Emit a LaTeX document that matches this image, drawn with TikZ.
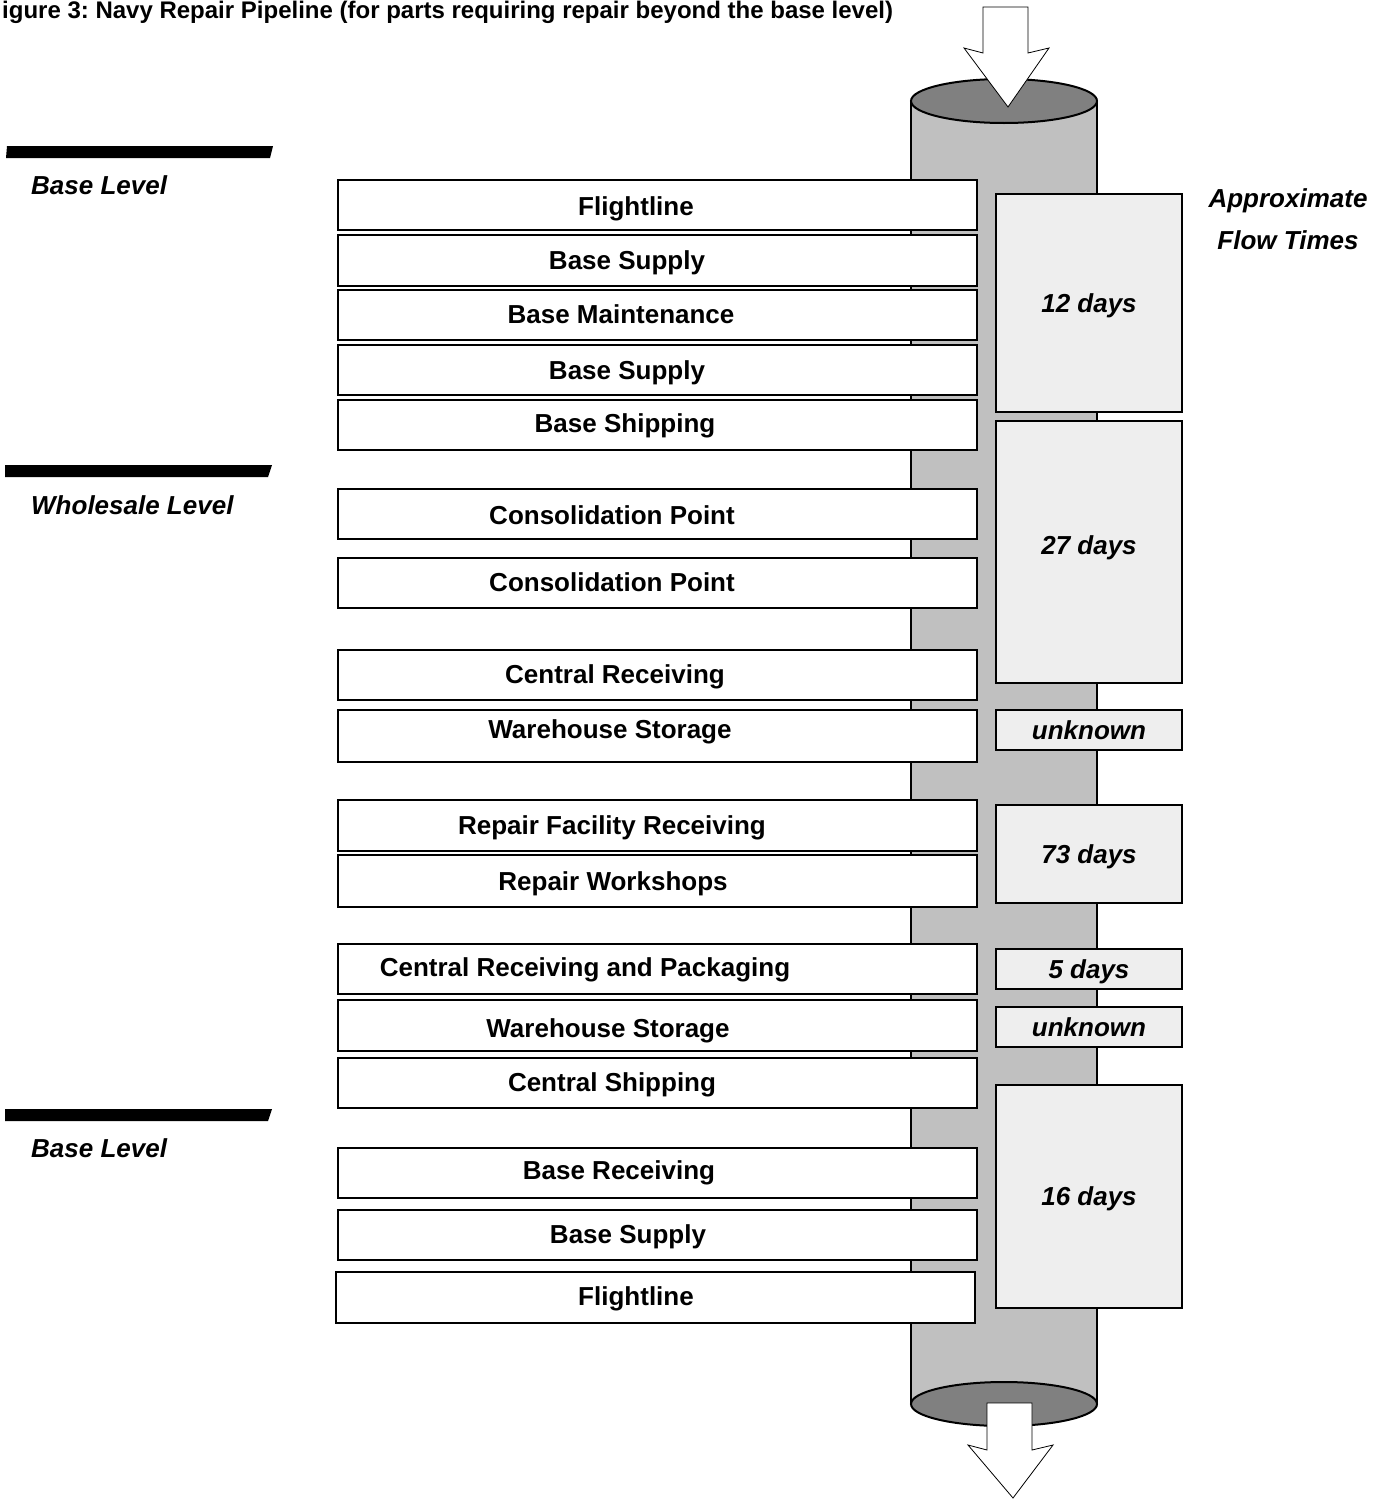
\documentclass[tikz,border=0pt]{standalone}
\usepackage{fontspec}
\setmainfont{Liberation Sans}
\usetikzlibrary{positioning}
\frenchspacing

\definecolor{pipegray}{RGB}{192,192,192}
\definecolor{pipedark}{RGB}{128,128,128}
\definecolor{timegray}{RGB}{238,238,238}

\begin{document}
\begin{tikzpicture}[x=1pt,y=-1pt]
    \begin{scope}[inner sep=0pt, text centered,
    		stagebox/.style={rectangle,draw,line width=2pt,fill=white,minimum width=639pt,minimum height=50pt},
    		stagetext/.style={font=\fontsize{26}{31}\selectfont\bfseries,text height=18.6pt,text depth=0pt},
    		timebox/.style={rectangle,draw,line width=2pt,fill=timegray,minimum width=186pt,
    			font=\fontsize{26}{31}\selectfont\bfseries\itshape,text height=18.6pt,text depth=0pt},
    		leveltext/.style={anchor=west,font=\fontsize{26}{31}\selectfont\bfseries\itshape,text height=18.6pt,text depth=0pt},
    		levelbar/.style={fill=black},
    		bigarrow/.style={draw,fill=white,line width=0.8pt}]
    
    \useasboundingbox (0,0) rectangle (1382,1499);
    
    % title
    \node[anchor=base west,font=\fontsize{24}{28}\selectfont\bfseries](title) at (2,19)
    {igure 3: Navy Repair Pipeline (for parts requiring repair beyond the base level)};
    
    % pipe
    \fill[pipegray] (911,101) rectangle (1097,1404);
    \draw[line width=2pt] (911,101) -- (911,1404) (1097,101) -- (1097,1404);
    \draw[line width=2pt,fill=pipedark] (1004,101) ellipse [x radius=93, y radius=22];
    \draw[line width=2pt,fill=pipedark] (1004,1404) ellipse [x radius=93, y radius=22];
    
    \draw[bigarrow] (983,7) -- (1028,7) -- (1028,53) -- (1049,48) -- (1008,107)
    	-- (964,48) -- (983,53) -- cycle;
    \draw[bigarrow] (987,1403) -- (1032,1403) -- (1032,1450) -- (1053,1445) -- (1013,1498)
    	-- (968,1445) -- (987,1450) -- cycle;
    
    % levels
    \fill[levelbar] (6,158) -- (270,158) -- (273,146) -- (7,146) -- cycle;
    \fill[levelbar] (5,477) -- (268,477) -- (272,465) -- (5,465) -- cycle;
    \fill[levelbar] (5,1121) -- (268,1121) -- (272,1109) -- (5,1109) -- cycle;
    \node[leveltext](base1) at (31,185) {Base Level};
    \node[leveltext](whole) at (31,505) {Wholesale Level};
    \node[leveltext](base2) at (31,1148) {Base Level};
    
    % stages
    \node[stagebox,label={[stagetext,xshift=-21.5pt,yshift=-1pt]center:Flightline}](flight1) at (657.5,205) {};
    \node[stagebox,minimum height=51pt,label={[stagetext,xshift=-30.5pt]center:Base Supply}](supply1) at (657.5,260.5) {};
    \node[stagebox,label={[stagetext,xshift=-36.5pt,yshift=1pt]center:Base Maintenance}](maint) at (657.5,315) {};
    \node[stagebox,label={[stagetext,xshift=-30.5pt]center:Base Supply}](supply2) at (657.5,370) {};
    \node[stagebox,label={[stagetext,xshift=-32.5pt,yshift=2pt]center:Base Shipping}](ship) at (657.5,425) {};
    \node[stagebox,label={[stagetext,xshift=-45.5pt,yshift=-1pt]center:Consolidation Point}](consol1) at (657.5,514) {};
    \node[stagebox,label={[stagetext,xshift=-45.5pt,yshift=1pt]center:Consolidation Point}](consol2) at (657.5,583) {};
    \node[stagebox,label={[stagetext,xshift=-42.5pt,yshift=1pt]center:Central Receiving}](centrec) at (657.5,675) {};
    \node[stagebox,minimum height=52pt,label={[stagetext,xshift=-47.5pt,yshift=7pt]center:Warehouse Storage}](ware1) at (657.5,736) {};
    \node[stagebox,minimum height=51pt,label={[stagetext,xshift=-45.5pt]center:Repair Facility Receiving}](repfac) at (657.5,825.5) {};
    \node[stagebox,minimum height=52pt,label={[stagetext,xshift=-44.5pt]center:Repair Workshops}](repwork) at (657.5,881) {};
    \node[stagebox,label={[stagetext,xshift=-72.5pt,yshift=2pt]center:Central Receiving and Packaging}](centpack) at (657.5,969) {};
    \node[stagebox,minimum height=51pt,label={[stagetext,xshift=-49.5pt,yshift=-2.5pt]center:Warehouse Storage}](ware2) at (657.5,1025.5) {};
    \node[stagebox,label={[stagetext,xshift=-45.5pt,yshift=1pt]center:Central Shipping}](centship) at (657.5,1083) {};
    \node[stagebox,label={[stagetext,xshift=-38.5pt,yshift=3pt]center:Base Receiving}](baserec) at (657.5,1173) {};
    \node[stagebox,label={[stagetext,xshift=-29.5pt,yshift=1pt]center:Base Supply}](supply3) at (657.5,1235) {};
    \node[stagebox,minimum height=51pt,label={[stagetext,xshift=-19.5pt,yshift=1.5pt]center:Flightline}](flight2) at (655.5,1297.5) {};
    
    % flow times
    \node[leveltext,anchor=center,align=center,font=\fontsize{26}{42}\selectfont\bfseries\itshape,text height=,text depth=](flowhead) at (1288,219)
    {Approximate\\Flow Times};
    \node[timebox,minimum height=218pt](days12) at (1089,303) {12 days};
    \node[timebox,minimum height=262pt,text depth=14pt](days27) at (1089,552) {27 days};
    \node[timebox,minimum height=40pt](unknown1) at (1089,730) {unknown};
    \node[timebox,minimum height=98pt](days73) at (1089,854) {73 days};
    \node[timebox,minimum height=40pt](days5) at (1089,969) {5 days};
    \node[timebox,minimum height=40pt](unknown2) at (1089,1027) {unknown};
    \node[timebox,minimum height=223pt](days16) at (1089,1196.5) {16 days};
    
    \end{scope}
\end{tikzpicture}
\end{document}
